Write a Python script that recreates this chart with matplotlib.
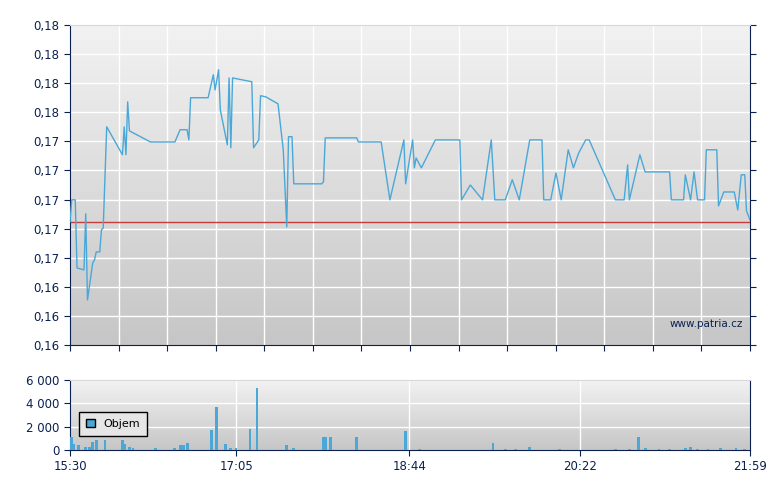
import numpy as np
import matplotlib
matplotlib.use('Agg')
import matplotlib.pyplot as plt
from matplotlib.patches import Patch

# minutes after 15:30
price_t = [0, 1, 3, 4, 8, 9, 10, 13, 14, 15, 17, 18, 19, 21, 30, 31, 32, 33, 34, 46, 60, 63, 67, 68, 69,
           79, 82, 83, 85, 86, 90, 91, 92, 93, 104, 105, 108, 109, 112, 119, 122, 124, 125, 127, 128,
           144, 145, 146, 164, 165, 178, 183, 191, 192, 196, 197, 198, 201, 209, 223, 224, 229, 236,
           241, 243, 249, 253, 257, 263, 270, 271, 275, 278, 281, 285, 288, 291, 295, 297, 312, 317,
           319, 320, 326, 329, 343, 344, 351, 352, 355, 357, 359, 363, 364, 370, 371, 374, 380, 382,
           384, 386, 387, 389]
price_v = [0.16423, 0.16499, 0.16499, 0.16265, 0.16258, 0.16451, 0.16155, 0.16282, 0.16292, 0.16320,
           0.16320, 0.16396, 0.16402, 0.16750, 0.16654, 0.16750, 0.16654, 0.16836, 0.16736, 0.16698,
           0.16698, 0.16740, 0.16740, 0.16705, 0.16850, 0.16850, 0.16929, 0.16877, 0.16946, 0.16808,
           0.16688, 0.16918, 0.16678, 0.16918, 0.16905, 0.16678, 0.16705, 0.16857, 0.16853, 0.16829,
           0.16671, 0.16406, 0.16716, 0.16716, 0.16554, 0.16554, 0.16561, 0.16712, 0.16712, 0.16698,
           0.16698, 0.16499, 0.16705, 0.16554, 0.16705, 0.16609, 0.16643, 0.16609, 0.16705, 0.16705,
           0.16499, 0.16550, 0.16499, 0.16705, 0.16499, 0.16499, 0.16568, 0.16499, 0.16705, 0.16705,
           0.16499, 0.16499, 0.16592, 0.16499, 0.16671, 0.16609, 0.16660, 0.16705, 0.16705, 0.16499,
           0.16499, 0.16619, 0.16499, 0.16654, 0.16595, 0.16595, 0.16499, 0.16499, 0.16585, 0.16499,
           0.16595, 0.16499, 0.16499, 0.16671, 0.16671, 0.16478, 0.16526, 0.16526, 0.16464, 0.16585,
           0.16585, 0.16461, 0.16430]
ref_price = 0.16423

vol_t = [1, 2, 5, 9, 11, 13, 15, 20, 30, 31, 34, 36, 49, 60, 63, 65, 67, 81, 84, 89, 92, 95, 103, 107,
         124, 128, 145, 146, 149, 164, 192, 200, 242, 249, 255, 263, 280, 312, 320, 325, 329, 337, 343,
         352, 355, 359, 365, 372, 381, 386]
vol_v = [1100, 500, 400, 300, 300, 700, 900, 900, 900, 500, 300, 200, 150, 150, 400, 400, 600, 1700, 3700,
         500, 200, 200, 1800, 5300, 400, 150, 1100, 1100, 1100, 1100, 1600, 100, 600, 100, 100, 300, 100,
         100, 100, 1100, 200, 100, 100, 200, 300, 100, 100, 200, 200, 100]

y_labels = ['0,16', '0,16', '0,16', '0,17', '0,17', '0,17', '0,17', '0,17', '0,18', '0,18', '0,18', '0,18']
x_labels = ['15:30', '17:05', '18:44', '20:22', '21:59']
x_label_pos = [0, 95, 194, 292, 389]

axis_col = '#0a2050'
line_col = '#4aa8d8'

fig = plt.figure(figsize=(7.8, 4.9), dpi=100)
ax = fig.add_axes([70/780, 1-345/490, 680/780, 320/490])
ax2 = fig.add_axes([70/780, 40/490, 680/780, 70/490])

grad = np.linspace(0, 1, 256).reshape(-1, 1)
cmap = matplotlib.colors.LinearSegmentedColormap.from_list('g', ['#f2f2f2', '#c6c6c6'])
for a in (ax, ax2):
    a.imshow(grad, aspect='auto', cmap=cmap, extent=[0, 1, 0, 1], transform=a.transAxes, zorder=0)
    for s in a.spines.values():
        s.set_color(axis_col)
    a.spines['top'].set_color('#d8d8d8')
    a.set_xlim(0, 389)
    a.tick_params(colors=axis_col, labelsize=8.5, direction='out', length=4)

y0, y1 = 0.1600, 0.1710
ax.set_ylim(y0, y1)
yt = np.linspace(y0, y1, 12)
ax.set_yticks(yt)
ax.set_yticklabels(y_labels)
xt = np.linspace(0, 389, 15)
ax.set_xticks(xt)
ax.set_xticklabels([])
ax.tick_params(right=True)
for v in xt[1:-1]:
    ax.axvline(v, color='white', lw=1, zorder=1)
for v in yt[1:-1]:
    ax.axhline(v, color='white', lw=1, zorder=1)
ax.axhline(ref_price, color='#c83c3c', lw=1, zorder=2)
ax.plot(price_t, price_v, color=line_col, lw=1, zorder=3)
ax.text(0.99, 0.05, 'www.patria.cz', transform=ax.transAxes, ha='right', va='bottom',
        fontsize=7.5, color=axis_col)

ax2.set_ylim(0, 6000)
ax2.set_yticks([0, 2000, 4000, 6000])
ax2.set_yticklabels(['0', '2 000', '4 000', '6 000'])
ax2.set_xticks(x_label_pos)
ax2.set_xticklabels(x_labels)
for v in x_label_pos[1:-1]:
    ax2.axvline(v, color='white', lw=1, zorder=1)
for v in [2000, 4000]:
    ax2.axhline(v, color='white', lw=1, zorder=1)
ax2.bar(vol_t, vol_v, width=1.6, color=line_col, zorder=3)
leg = ax2.legend(handles=[Patch(facecolor=line_col, edgecolor='black', label='Objem')],
                 loc='upper left', bbox_to_anchor=(0.005, 0.62), fontsize=8,
                 handlelength=0.8, handleheight=0.8, fancybox=False, framealpha=1,
                 borderpad=0.6)
leg.get_frame().set_edgecolor('black')
leg.get_frame().set_facecolor('#e6e6e6')

fig.savefig('out.png', dpi=100)
